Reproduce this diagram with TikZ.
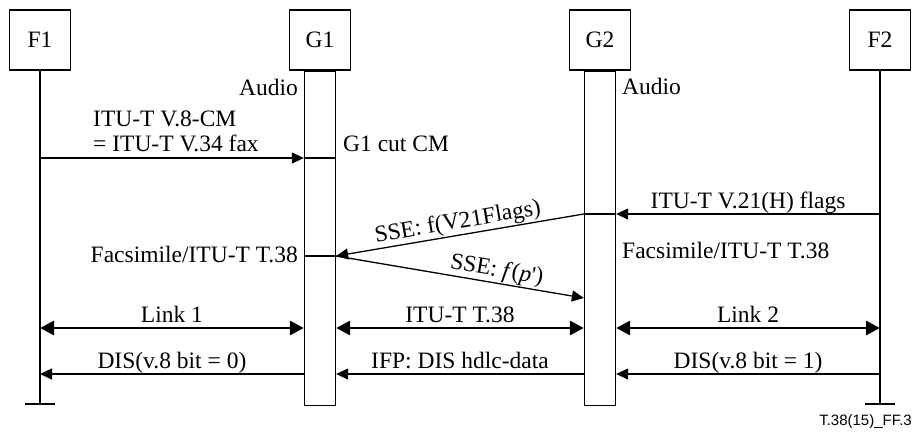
\documentclass[tikz,border=0pt]{standalone}
\usepackage{fontspec}
\setmainfont{Liberation Serif}
\newfontfamily\tagfont{Liberation Sans}
\usetikzlibrary{arrows.meta}
\begin{document}
\begin{tikzpicture}[x=1pt,y=-1pt,
  every node/.style={font=\fontsize{23.5}{28}\selectfont},
  ent/.style={draw, line width=1.3pt, minimum width=61pt, minimum height=60pt, inner sep=0pt},
  bar/.style={draw, line width=1.3pt, minimum width=31pt, minimum height=334pt, inner sep=0pt},
  life/.style={line width=1.3pt},
  msg/.style={line width=1.3pt, -{Triangle[length=12pt,width=11pt]}},
  link/.style={line width=2.8pt, {Triangle[length=14pt,width=14pt]}-{Triangle[length=14pt,width=14pt]}},
  lbl/.style={inner sep=0pt},
  over/.style={midway, anchor=base, inner sep=0pt, yshift=6pt},
  slant/.style={sloped, above, inner sep=1pt}
]
\useasboundingbox (0,0) rectangle (915,432);

% entities
\node[ent] (F1) at (40,40) {F1};
\node[ent] (G1) at (320,40) {G1};
\node[ent] (G2) at (600,40) {G2};
\node[ent] (F2) at (880,40) {F2};

% gateway activity bars
\node[bar, anchor=north] (G1bar) at (G1.south) {};
\node[bar, anchor=north] (G2bar) at (G2.south) {};

% terminal lifelines with end ticks
\coordinate (foot) at (0,404);
\draw[life] (F1.south) -- (F1 |- foot);
\draw[life] ([xshift=-15pt]F1 |- foot) -- ([xshift=15pt]F1 |- foot);
\draw[life] (F2.south) -- (F2 |- foot);
\draw[life] ([xshift=-15pt]F2 |- foot) -- ([xshift=15pt]F2 |- foot);

% message rows
\coordinate (r1) at (0,158);
\coordinate (r2) at (0,214);
\coordinate (r3) at (0,256);
\coordinate (r4) at (0,298);
\coordinate (r5) at (0,328);
\coordinate (r6) at (0,374);

% side labels
\node[lbl, anchor=base east] at (298,95) {Audio};
\node[lbl, anchor=base west] at (622,94) {Audio};
\node[lbl, anchor=base west] at (93,126) {ITU-T V.8-CM};
\node[lbl, anchor=base west] at (93,151) {= ITU-T V.34 fax};
\node[lbl, anchor=base west] at (343,151) {G1 cut CM};
\node[lbl, anchor=base east] at (298,262) {Facsimile/ITU-T T.38};
\node[lbl, anchor=base west] at (622,258) {Facsimile/ITU-T T.38};

% CM from F1
\draw[msg] (F1 |- r1) -- (G1bar.west |- r1);
\draw[life] (G1bar.west |- r1) -- (G1bar.east |- r1);

% V.21 flags from F2, relayed as SSE
\draw[msg] (F2 |- r2) -- node[over] {ITU-T V.21(H) flags} (G2bar.east |- r2);
\draw[life] (G2bar.east |- r2) -- (G2bar.west |- r2);
\draw[msg] (G2bar.west |- r2) -- node[midway, slant] {SSE: f(V21Flags)} (G1bar.east |- r3);

% SSE back to G2
\draw[life] (G1bar.west |- r3) -- (G1bar.east |- r3);
\draw[msg] (G1bar.east |- r3) -- node[pos=0.64, slant] {SSE: \textit{f}(\textit{p}\textquotesingle)} (G2bar.west |- r4);

% links
\draw[link] (F1 |- r5) -- node[over] {Link 1} (G1bar.west |- r5);
\draw[link] (G1bar.east |- r5) -- node[over] {ITU-T T.38} (G2bar.west |- r5);
\draw[link] (G2bar.east |- r5) -- node[over] {Link 2} (F2 |- r5);

% DIS
\draw[msg] (G1bar.west |- r6) -- node[over] {DIS(v.8 bit = 0)} (F1 |- r6);
\draw[msg] (G2bar.west |- r6) -- node[over] {IFP: DIS hdlc-data} (G1bar.east |- r6);
\draw[msg] (F2 |- r6) -- node[over] {DIS(v.8 bit = 1)} (G2bar.east |- r6);

% figure tag
\node[lbl, anchor=base east, font=\tagfont\fontsize{15}{18}\selectfont] at (912,425) {T.38(15)\_FF.3};
\end{tikzpicture}
\end{document}
